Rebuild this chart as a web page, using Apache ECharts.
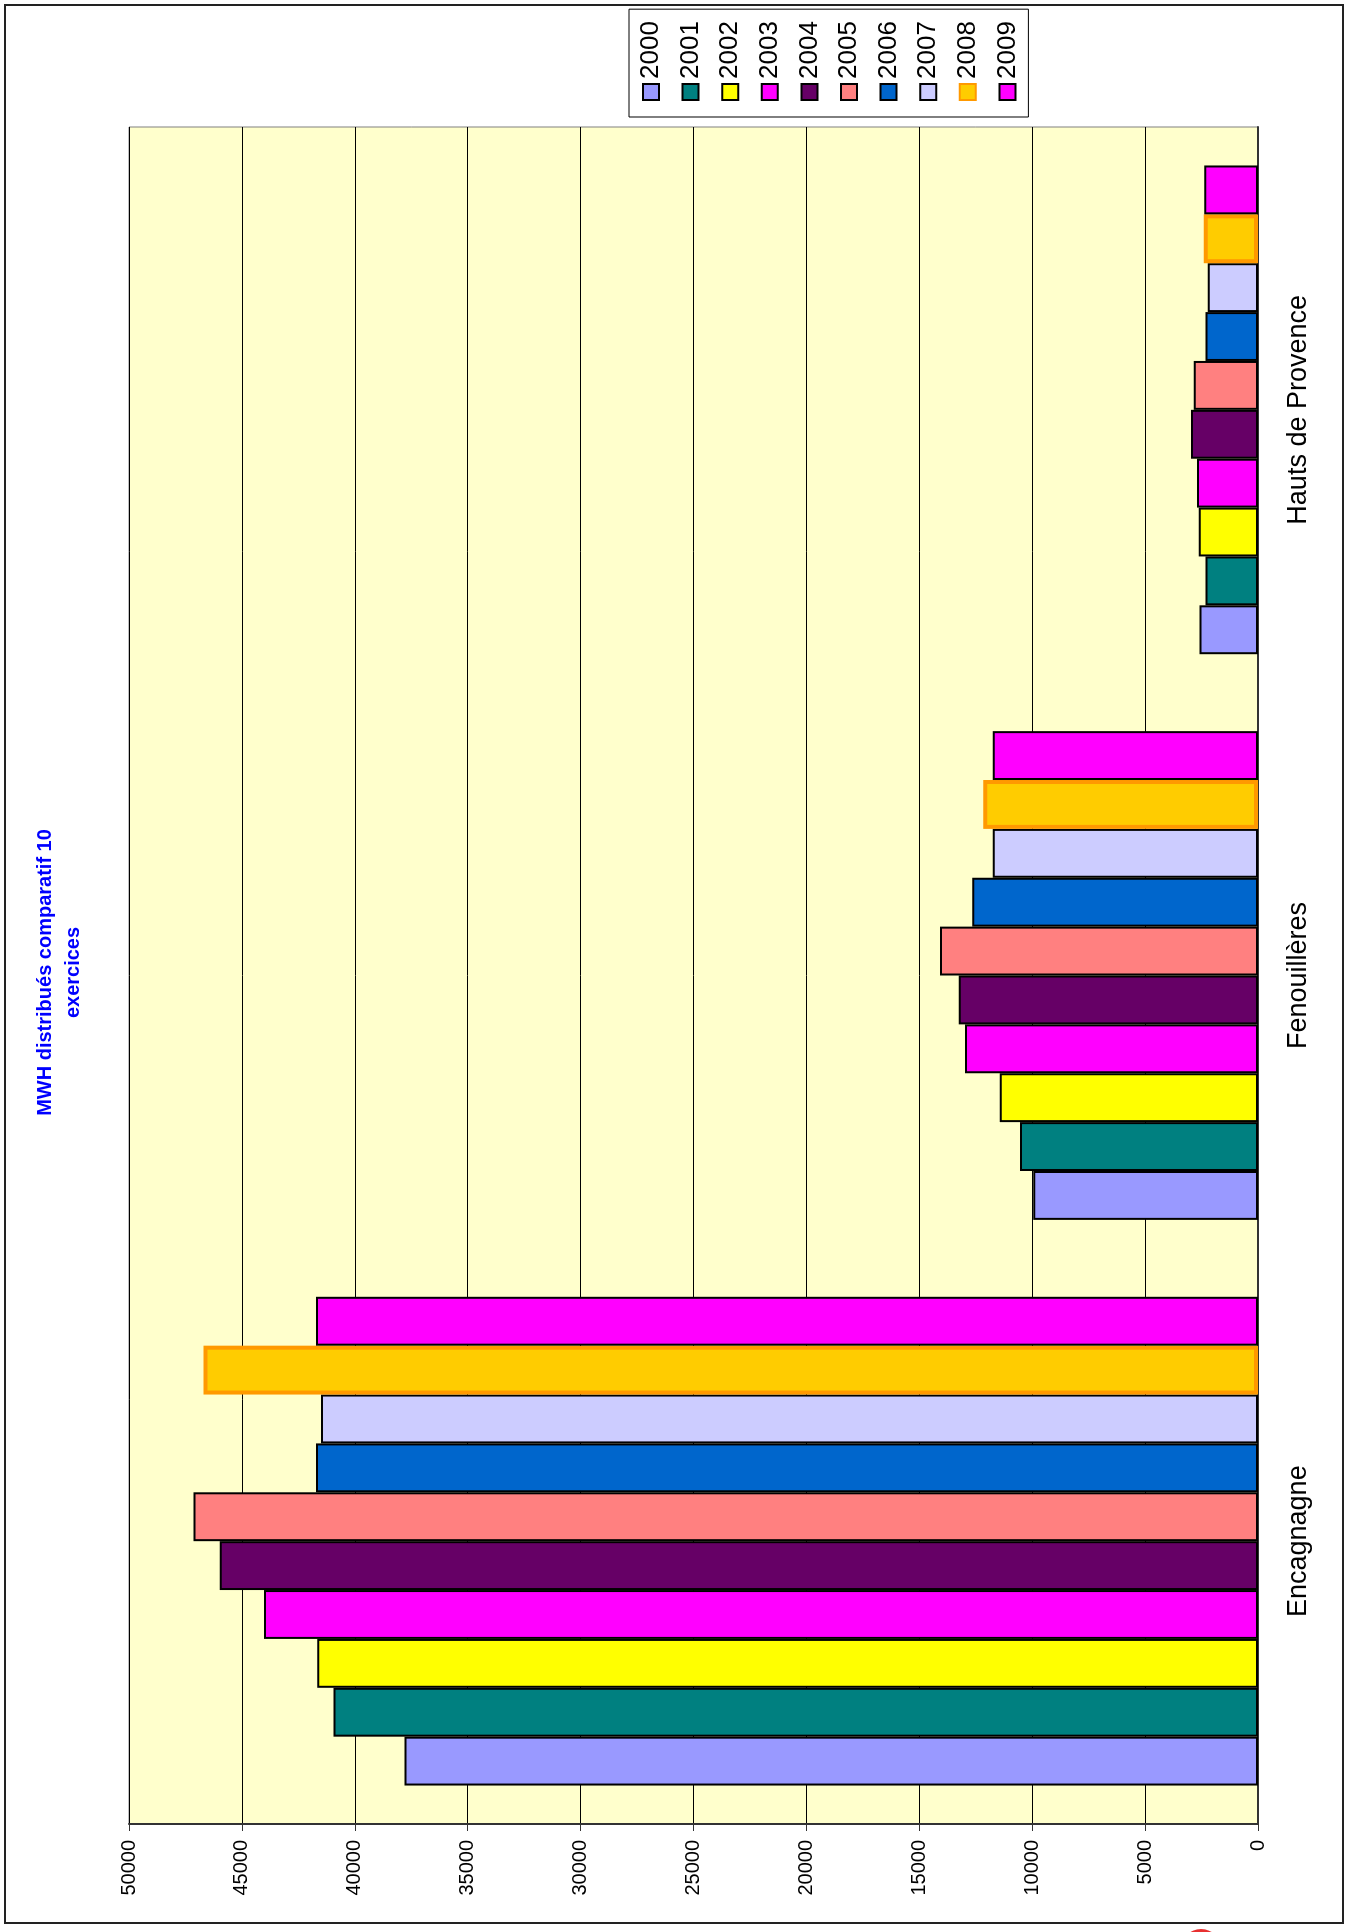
<!DOCTYPE html>
<html>
<head>
<meta charset="utf-8">
<script src="https://cdn.jsdelivr.net/npm/echarts@6/dist/echarts.min.js"></script>
<style>
  html, body { margin: 0; padding: 0; width: 1350px; height: 1932px; overflow: hidden; background: #fff; }
  /* chart is laid out landscape, then turned a quarter left like the scan */
  #chart {
    position: absolute; left: 0; top: 0;
    width: 1932px; height: 1350px;
    transform-origin: 0 0;
    transform: translateY(1932px) rotate(-90deg);
  }
</style>
</head>
<body>
<div id="chart"></div>
<script>
const categories = ["Encagnagne", "Fenouillères", "Hauts de Provence"];
const years = ["2000", "2001", "2002", "2003", "2004", "2005", "2006", "2007", "2008", "2009"];

// MWh per site, one array per year
const mwh2000 = [37800, 9950, 2590];
const mwh2001 = [40940, 10540, 2320];
const mwh2002 = [41660, 11440, 2620];
const mwh2003 = [44020, 12980, 2700];
const mwh2004 = [45980, 13250, 2970];
const mwh2005 = [47140, 14080, 2840];
const mwh2006 = [41720, 12660, 2320];
const mwh2007 = [41500, 11750, 2230];
const mwh2008 = [46700, 12170, 2400];
const mwh2009 = [41720, 11750, 2380];
const yearValues = [mwh2000, mwh2001, mwh2002, mwh2003, mwh2004, mwh2005, mwh2006, mwh2007, mwh2008, mwh2009];

const valueTicks = { min: 0, max: 50000, interval: 5000 };

const colors = ["#9999FF", "#008080", "#FFFF00", "#FF00FF", "#660066", "#FF8080", "#0066CC", "#CCCCFF", "#FFCC00", "#FF00FF"];
const FONT = "'Liberation Sans', Arial, sans-serif";

const chart = echarts.init(document.getElementById("chart"), null, { renderer: "canvas" });

const option = {
  animation: false,
  backgroundColor: "#fff",
  textStyle: { fontFamily: FONT },
  grid: {
    left: 108, right: 127, top: 129, bottom: 92,
    show: true, backgroundColor: "#FFFFCC", borderColor: "#808080", borderWidth: 1,
  },
  legend: {
    orient: "vertical",
    left: 1815, top: 629,
    padding: [9, 12, 8, 16],
    itemWidth: 16, itemHeight: 16, itemGap: 13.6, itemTextGap: 10,
    icon: "rect",
    backgroundColor: "#fff", borderColor: "#000", borderWidth: 1,
    textStyle: { fontSize: 26, lineHeight: 26, color: "#000", fontFamily: FONT },
    data: years,
  },
  xAxis: {
    type: "category",
    data: categories,
    axisLine: { lineStyle: { color: "#333", width: 2 } },
    axisTick: { length: 9, lineStyle: { color: "#333", width: 1 } },
    axisLabel: { fontSize: 27, color: "#000", margin: 27, fontFamily: FONT },
  },
  yAxis: {
    type: "value",
    min: valueTicks.min, max: valueTicks.max, interval: valueTicks.interval,
    axisLine: { show: true, lineStyle: { color: "#333", width: 2 } },
    axisTick: { show: true, length: 7, lineStyle: { color: "#333" } },
    axisLabel: { fontSize: 20, color: "#000", margin: 16, fontFamily: FONT, formatter: (v) => String(v) },
    splitLine: { lineStyle: { color: "#000", width: 1 } },
  },
  series: years.map((y, i) => ({
    name: y,
    type: "bar",
    data: yearValues[i],
    barGap: "0%",
    barCategoryGap: "13.6%",
    itemStyle: {
      color: colors[i],
      borderColor: y === "2008" ? "#FF9900" : "#000",
      borderWidth: y === "2008" ? 4 : 2,
    },
    emphasis: { disabled: true },
  })),
  graphic: [
    {
      type: "text", x: 959.5, y: 31, silent: true,
      style: {
        text: "MWH distribués comparatif 10\nexercices",
        fontFamily: FONT, fontSize: 20, fontWeight: "bold",
        fill: "#0000FF", align: "center", verticalAlign: "top", lineHeight: 28,
      },
    },
    {
      type: "rect", silent: true, z: 100,
      shape: { x: 9, y: 5, width: 1918, height: 1338 },
      style: { fill: null, stroke: "#222", lineWidth: 2 },
    },
    {
      // bit of a stamp cut off by the page edge
      type: "circle", silent: true, z: 100,
      shape: { cx: -16.8, cy: 1201, r: 19.8 },
      style: { fill: "#E83030" },
    },
  ],
};

chart.setOption(option);
</script>
</body>
</html>
